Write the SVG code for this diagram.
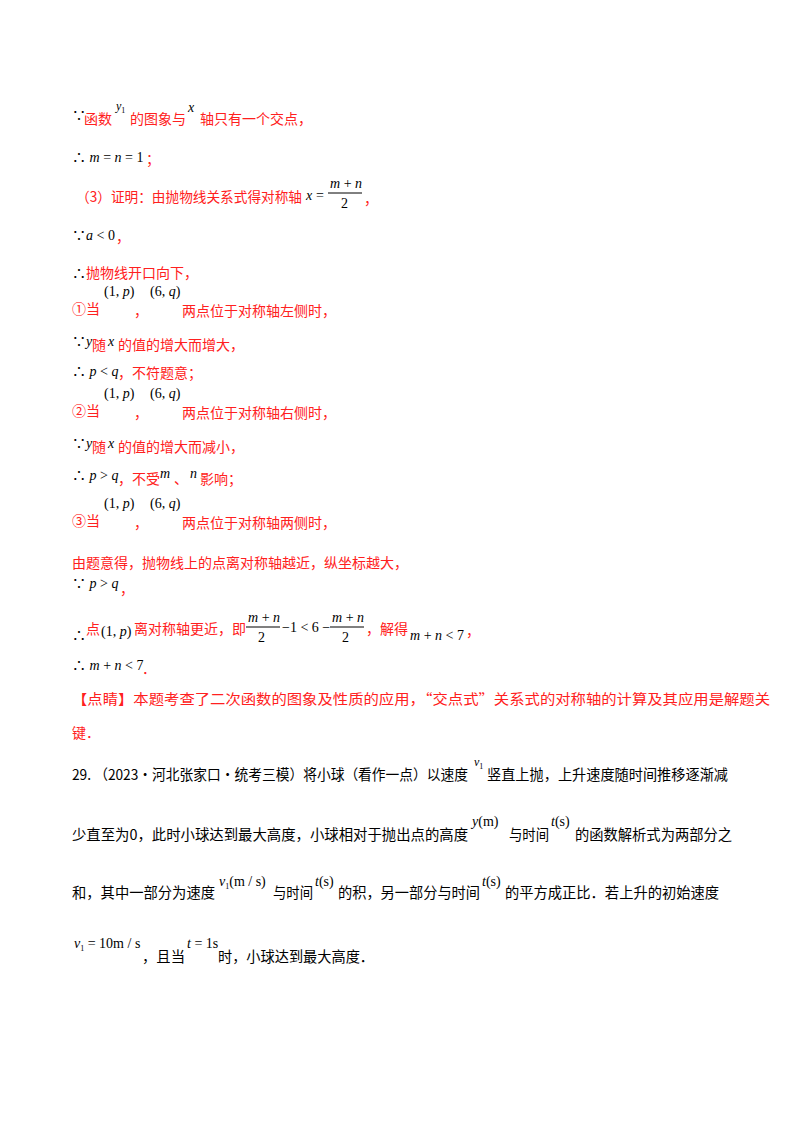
<svg xmlns="http://www.w3.org/2000/svg" width="800" height="1132" viewBox="0 0 800 1132">
<style>
text{font-family:"Liberation Serif","Noto Sans CJK SC",serif;font-size:14px;fill:#000}
.r{fill:#ff2020;font-family:"Noto Sans CJK SC",sans-serif}
.k{font-family:"Noto Sans CJK SC",sans-serif;font-size:14.5px}
.i{font-style:italic}
.s{font-size:12px}
</style>
<rect width="800" height="1132" fill="#fff"/>
<text x="72" y="120">∵</text><text x="84" y="124" class="r">函数</text><text x="116" y="110" class="i s">y<tspan font-size="8" font-style="normal" dy="3">1</tspan></text><text x="130" y="124" class="r">的图象与</text><text x="188" y="112" class="i">x</text><text x="200" y="124" class="r">轴只有一个交点，</text>
<text x="72" y="162">∴ <tspan class="i">m</tspan> = <tspan class="i">n</tspan> = 1</text><text x="146" y="164" class="r">；</text>
<text x="76" y="202" class="r" textLength="226" lengthAdjust="spacingAndGlyphs">（3）证明：由抛物线关系式得对称轴</text><text x="306" y="200" class="i">x</text><text x="316" y="200">=</text><text x="330" y="188" class="i">m <tspan font-style="normal">+</tspan> n</text><line x1="328" y1="193" x2="362" y2="193" stroke="#000"/><text x="341" y="208">2</text><text x="364" y="204" class="r">，</text>
<text x="72" y="240">∵<tspan class="i">a</tspan> &lt; 0</text><text x="116" y="242" class="r">，</text>
<text x="72" y="278">∴</text><text x="86" y="278" class="r">抛物线开口向下，</text>
<text x="72" y="314" class="r">①当</text><text x="104" y="296">(1, <tspan class="i">p</tspan>)</text><text x="134" y="316" class="r">，</text><text x="150" y="296">(6, <tspan class="i">q</tspan>)</text><text x="182" y="316" class="r">两点位于对称轴左侧时，</text>
<text x="72" y="346">∵<tspan class="i">y</tspan></text><text x="92" y="350" class="r">随</text><text x="108" y="346" class="i">x</text><text x="118" y="350" class="r">的值的增大而增大，</text>
<text x="72" y="376">∴ <tspan class="i">p</tspan> &lt; <tspan class="i">q</tspan></text><text x="118" y="378" class="r">，不符题意；</text>
<text x="72" y="416" class="r">②当</text><text x="104" y="398">(1, <tspan class="i">p</tspan>)</text><text x="134" y="418" class="r">，</text><text x="150" y="398">(6, <tspan class="i">q</tspan>)</text><text x="182" y="418" class="r">两点位于对称轴右侧时，</text>
<text x="72" y="448">∵<tspan class="i">y</tspan></text><text x="92" y="452" class="r">随</text><text x="108" y="448" class="i">x</text><text x="118" y="452" class="r">的值的增大而减小，</text>
<text x="72" y="480">∴ <tspan class="i">p</tspan> &gt; <tspan class="i">q</tspan></text><text x="118" y="484" class="r">，不受</text><text x="160" y="478" class="i">m</text><text x="174" y="484" class="r">、</text><text x="190" y="478" class="i">n</text><text x="200" y="484" class="r">影响；</text>
<text x="72" y="526" class="r">③当</text><text x="104" y="508">(1, <tspan class="i">p</tspan>)</text><text x="134" y="528" class="r">，</text><text x="150" y="508">(6, <tspan class="i">q</tspan>)</text><text x="182" y="528" class="r">两点位于对称轴两侧时，</text>
<text x="72" y="568" class="r">由题意得，抛物线上的点离对称轴越近，纵坐标越大，</text>
<text x="72" y="588">∵ <tspan class="i">p</tspan> &gt; <tspan class="i">q</tspan></text><text x="120" y="594" class="r">，</text>
<text x="72" y="640">∴</text><text x="86" y="634" class="r">点</text><text x="101" y="636">(1, <tspan class="i">p</tspan>)</text><text x="134" y="634" class="r">离对称轴更近，即</text><text x="248" y="622" class="i">m <tspan font-style="normal">+</tspan> n</text><line x1="246" y1="627" x2="280" y2="627" stroke="#000"/><text x="258" y="642">2</text><text x="282" y="632">−1 &lt; 6 −</text><text x="332" y="622" class="i">m <tspan font-style="normal">+</tspan> n</text><line x1="330" y1="627" x2="364" y2="627" stroke="#000"/><text x="342" y="642">2</text><text x="366" y="634" class="r">，解得</text><text x="410" y="640" class="i">m <tspan font-style="normal">+</tspan> n <tspan font-style="normal">&lt; 7</tspan></text><text x="466" y="636" class="r">，</text>
<text x="72" y="670">∴ <tspan class="i">m</tspan> + <tspan class="i">n</tspan> &lt; 7</text><text x="142" y="674" class="r">．</text>
<text x="72" y="704" class="r" textLength="698" lengthAdjust="spacingAndGlyphs">【点睛】本题考查了二次函数的图象及性质的应用，“交点式”关系式的对称轴的计算及其应用是解题关</text>
<text x="72" y="738" class="r">键．</text>
<text x="72" y="780" class="k" textLength="396" lengthAdjust="spacingAndGlyphs">29. （2023·河北张家口·统考三模）将小球（看作一点）以速度</text><text x="474" y="766" class="i s">v<tspan font-size="8" font-style="normal" dy="3">1</tspan></text><text x="487" y="780" class="k" textLength="241" lengthAdjust="spacingAndGlyphs">竖直上抛，上升速度随时间推移逐渐减</text>
<text x="72" y="840" class="k" textLength="396" lengthAdjust="spacingAndGlyphs">少直至为0，此时小球达到最大高度，小球相对于抛出点的高度</text><text x="472" y="826"><tspan class="i">y</tspan>(m)</text><text x="509" y="840" class="k" textLength="40" lengthAdjust="spacingAndGlyphs">与时间</text><text x="551" y="826"><tspan class="i">t</tspan>(s)</text><text x="575" y="840" class="k" textLength="157" lengthAdjust="spacingAndGlyphs">的函数解析式为两部分之</text>
<text x="72" y="898" class="k" textLength="143" lengthAdjust="spacingAndGlyphs">和，其中一部分为速度</text><text x="219" y="886"><tspan class="i">v</tspan><tspan font-size="8" dy="3">1</tspan><tspan dy="-3">(m / s)</tspan></text><text x="273" y="898" class="k" textLength="40" lengthAdjust="spacingAndGlyphs">与时间</text><text x="315" y="886"><tspan class="i">t</tspan>(s)</text><text x="338" y="898" class="k" textLength="142" lengthAdjust="spacingAndGlyphs">的积，另一部分与时间</text><text x="482" y="886"><tspan class="i">t</tspan>(s)</text><text x="505" y="898" class="k" textLength="214" lengthAdjust="spacingAndGlyphs">的平方成正比．若上升的初始速度</text>
<text x="74" y="948"><tspan class="i">v</tspan><tspan font-size="8" dy="3">1</tspan><tspan dy="-3"> = 10m / s</tspan></text><text x="142" y="962" class="k" textLength="43" lengthAdjust="spacingAndGlyphs">，且当</text><text x="187" y="948"><tspan class="i">t</tspan> = 1s</text><text x="218" y="962" class="k" textLength="156" lengthAdjust="spacingAndGlyphs">时，小球达到最大高度．</text>
</svg>
